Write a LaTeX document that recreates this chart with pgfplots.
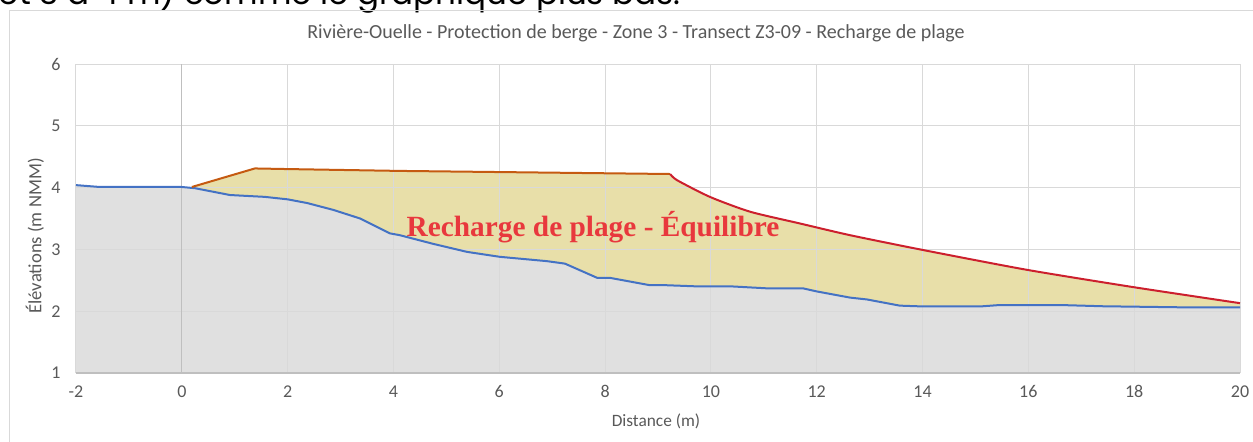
\documentclass[border=0pt]{standalone}
\usepackage{pgfplots}
\pgfplotsset{compat=1.18}
\usepackage{fontspec}
\setmainfont{Carlito}
\newfontfamily\serifbold{Liberation Serif}
\newfontfamily\topfont{Poppins}
\definecolor{gridc}{HTML}{D9D9D9}
\definecolor{axc}{HTML}{BFBFBF}
\definecolor{txt}{HTML}{595959}
\definecolor{blueline}{HTML}{4472C4}
\definecolor{orangeline}{HTML}{C55A11}
\definecolor{redline}{HTML}{CC1F2D}
\definecolor{khaki}{HTML}{E8DFA9}
\definecolor{greyfill}{HTML}{E0E0E0}
\definecolor{labred}{HTML}{E8383D}
\pgfplotsset{chartbase/.style={
  at={(57pt,-279.75pt)}, anchor=south west,
  scale only axis, width=873pt, height=231.75pt,
  xmin=-2, xmax=20, ymin=1, ymax=6}}
\begin{document}
\begin{tikzpicture}
\useasboundingbox (0,0) rectangle (939.75pt,-331.5pt);
\begin{scope}
\clip (0,0) rectangle (939.75pt,-331.5pt);
\node[anchor=base west, inner sep=0pt, font=\topfont] at (-1pt,-3.75pt) {\resizebox{511pt}{!}{et 3 à 4 m) comme le graphique plus bas.}};
\draw[color=gridc, line width=0.75pt] (6.75pt,-8pt) rectangle (960pt,-340pt);
\end{scope}
% --- fills (below the grid)
\begin{axis}[chartbase, hide axis]
\addplot[fill=greyfill, draw=none] coordinates {
(-2,4.04) (-1.55,4.01) (0,4.01) (0.25,3.99) (0.91,3.88) (1.57,3.85) (2.0,3.81)
(2.37,3.75) (2.86,3.64) (3.37,3.50) (3.93,3.26) (4.12,3.23) (4.75,3.09) (5.39,2.96)
(6.01,2.88) (6.90,2.81) (7.24,2.77) (7.85,2.54) (8.09,2.54) (8.85,2.42) (9.17,2.42)
(9.79,2.40) (10.42,2.40) (11.06,2.37) (11.74,2.37) (12.0,2.32) (12.63,2.22) (12.95,2.19)
(13.57,2.09) (13.9,2.08) (15.14,2.08) (15.46,2.10) (16.6,2.10) (17.41,2.08) (19.15,2.06)
(20,2.06) (20,1) (-2,1)};
\addplot[fill=khaki, draw=none] coordinates {
(0.19,4.01) (1.38,4.31) (2,4.30) (4.12,4.27) (9.23,4.22)
(9.36,4.12) (9.98,3.85) (10.74,3.61) (11.68,3.42) (12.63,3.23) (14.01,2.99) (15.97,2.67) (17.98,2.39) (20,2.13)
(20,2.06) (19.15,2.06) (17.41,2.08) (16.6,2.10) (15.46,2.10) (15.14,2.08) (13.9,2.08) (13.57,2.09)
(12.95,2.19) (12.63,2.22) (12.0,2.32) (11.74,2.37) (11.06,2.37) (10.42,2.40) (9.79,2.40)
(9.17,2.42) (8.85,2.42) (8.09,2.54) (7.85,2.54) (7.24,2.77) (6.90,2.81) (6.01,2.88)
(5.39,2.96) (4.75,3.09) (4.12,3.23) (3.93,3.26) (3.37,3.50) (2.86,3.64) (2.37,3.75)
(2.0,3.81) (1.57,3.85) (0.91,3.88) (0.25,3.99)};
\end{axis}
% --- grid, ticks and lines
\begin{axis}[chartbase,
  xtick={-2,0,...,20}, ytick={1,...,6},
  grid=major,
  grid style={color=gridc, line width=0.75pt},
  major tick length=0pt,
  axis line style={draw=none},
  extra x ticks={0}, extra x tick labels={},
  extra x tick style={grid style={color=axc, line width=0.9pt}},
  extra y ticks={1}, extra y tick labels={},
  extra y tick style={grid style={color=axc, line width=0.9pt}},
  tick label style={font=\fontsize{13.5}{15}\selectfont, text=txt},
  /pgf/number format/assume math mode=true,
  xticklabel style={yshift=-6pt, text height=9pt, text depth=1pt},
  yticklabel style={xshift=-8pt},
]
\addplot[blueline, line width=1.5pt, no marks] coordinates {
(-2,4.04) (-1.55,4.01) (0,4.01) (0.25,3.99) (0.91,3.88) (1.57,3.85) (2.0,3.81)
(2.37,3.75) (2.86,3.64) (3.37,3.50) (3.93,3.26) (4.12,3.23) (4.75,3.09) (5.39,2.96)
(6.01,2.88) (6.90,2.81) (7.24,2.77) (7.85,2.54) (8.09,2.54) (8.85,2.42) (9.17,2.42)
(9.79,2.40) (10.42,2.40) (11.06,2.37) (11.74,2.37) (12.0,2.32) (12.63,2.22) (12.95,2.19)
(13.57,2.09) (13.9,2.08) (15.14,2.08) (15.46,2.10) (16.6,2.10) (17.41,2.08) (19.15,2.06)
(20,2.06)};
\addplot[orangeline, line width=1.5pt, no marks] coordinates {
(0.19,4.01) (1.38,4.31) (2,4.30) (4.12,4.27) (9.23,4.22)};
\addplot[redline, line width=1.5pt, no marks, smooth, tension=0.4] coordinates {
(9.23,4.22) (9.36,4.12) (9.98,3.85) (10.74,3.61) (11.68,3.42) (12.63,3.23) (14.01,2.99) (15.97,2.67) (17.98,2.39) (20,2.13)};
\end{axis}
\node[text=txt, font=\fontsize{15}{17}\selectfont] at (477pt,-24.75pt) {Rivière-Ouelle - Protection de berge - Zone 3 - Transect Z3-09 - Recharge de plage};
\node[text=txt, font=\fontsize{13}{15}\selectfont] at (492pt,-315.75pt) {Distance (m)};
\node[text=txt, font=\fontsize{14}{16}\selectfont, rotate=90] at (26.25pt,-177pt) {Élévations (m NMM)};
\node[text=labred, font=\serifbold\bfseries\fontsize{22}{24}\selectfont] at (444.75pt,-170.25pt) {Recharge de plage - Équilibre};
\end{tikzpicture}
\end{document}
